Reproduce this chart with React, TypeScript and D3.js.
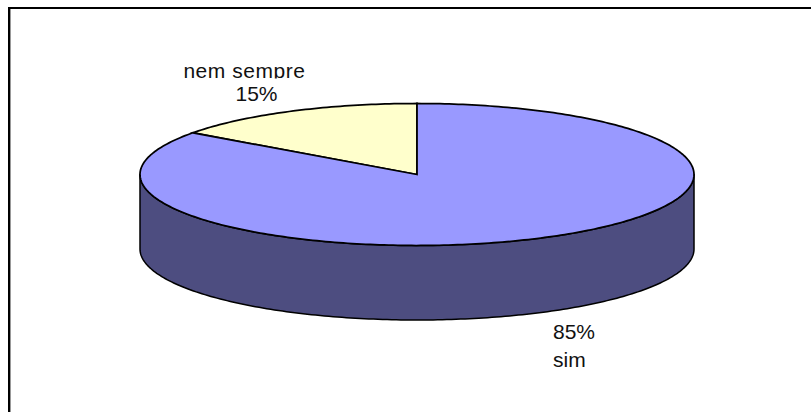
import React from "react";
import * as d3 from "d3";

const categories = ["nem sempre", "sim"];
const shares = [15, 85];
const percentLabels = ["15%", "85%"];
const topColors = ["#FFFFCC", "#9999FF"];
const wallColor = "#4D4D80";

const W = 811;
const H = 412;
const cx = 417;
const cy = 174.5;
const rx = 277;
const ry = 71;
const depth = 74.5;

// Slices run anticlockwise from twelve o'clock, so the small one sits on the left.
const slices = d3
  .pie<number>()
  .sort(null)
  .startAngle(0)
  .endAngle(-2 * Math.PI)(shares);

const px = d3.scaleLinear().domain([-1, 1]).range([cx - rx, cx + rx]);
const py = d3.scaleLinear().domain([-1, 1]).range([cy - ry, cy + ry]);

type Pt = [number, number];
const rimPoint = (a: number, dy = 0): Pt => [px(Math.sin(a)), py(-Math.cos(a)) + dy];

const rim = (a0: number, a1: number, dy = 0): Pt[] => {
  const n = Math.max(2, Math.ceil(Math.abs(a1 - a0) * 60));
  return d3.range(n + 1).map((i) => rimPoint(a0 + ((a1 - a0) * i) / n, dy));
};

const line = d3.line<Pt>();

const wedgePath = (a0: number, a1: number) =>
  line([[cx, cy], ...rim(a0, a1), [cx, cy]]) + "Z";

// Outer wall: the front half of the rim, swept down by the cylinder's height.
const wallPath =
  line([...rim(Math.PI / 2, (3 * Math.PI) / 2), ...rim((3 * Math.PI) / 2, Math.PI / 2, depth)]) + "Z";

const labelStyle = {
  fontFamily: "'Liberation Sans', Arial, sans-serif",
  fontSize: 21,
  fill: "#111",
} as const;

export default function App() {
  return (
    <svg
      width={W}
      height={H}
      viewBox={`0 0 ${W} ${H}`}
      style={{ position: "absolute", left: 0, top: 0, background: "#fff" }}
    >
      <defs>
        <clipPath id="upper-label">
          <rect x={150} y={50} width={200} height={28.5} />
        </clipPath>
      </defs>

      {/* chart frame, running off the page on the right and at the bottom */}
      <path d={`M10.5 9V${H}`} fill="none" stroke="#999" strokeWidth={1} />
      <path d={`M9 7V${H}`} fill="none" stroke="#000" strokeWidth={2} />
      <path d={`M8 8H${W}`} fill="none" stroke="#000" strokeWidth={2} />

      <path d={wallPath} fill={wallColor} stroke="#000" strokeWidth={1.5} strokeLinejoin="round" />
      {slices.map((s, i) => (
        <path
          key={categories[i]}
          d={wedgePath(s.startAngle, s.endAngle)}
          fill={topColors[i]}
          stroke="#000"
          strokeWidth={1.75}
          strokeLinejoin="miter"
        />
      ))}

      <text
        x={244.5}
        y={78}
        textAnchor="middle"
        letterSpacing={0.55}
        clipPath="url(#upper-label)"
        style={labelStyle}
      >
        {categories[0]}
      </text>
      <text x={256.5} y={100.5} textAnchor="middle" style={labelStyle}>
        {percentLabels[0]}
      </text>
      <text x={553} y={339} style={labelStyle}>
        {percentLabels[1]}
      </text>
      <text x={553} y={367} style={labelStyle}>
        {categories[1]}
      </text>
    </svg>
  );
}
